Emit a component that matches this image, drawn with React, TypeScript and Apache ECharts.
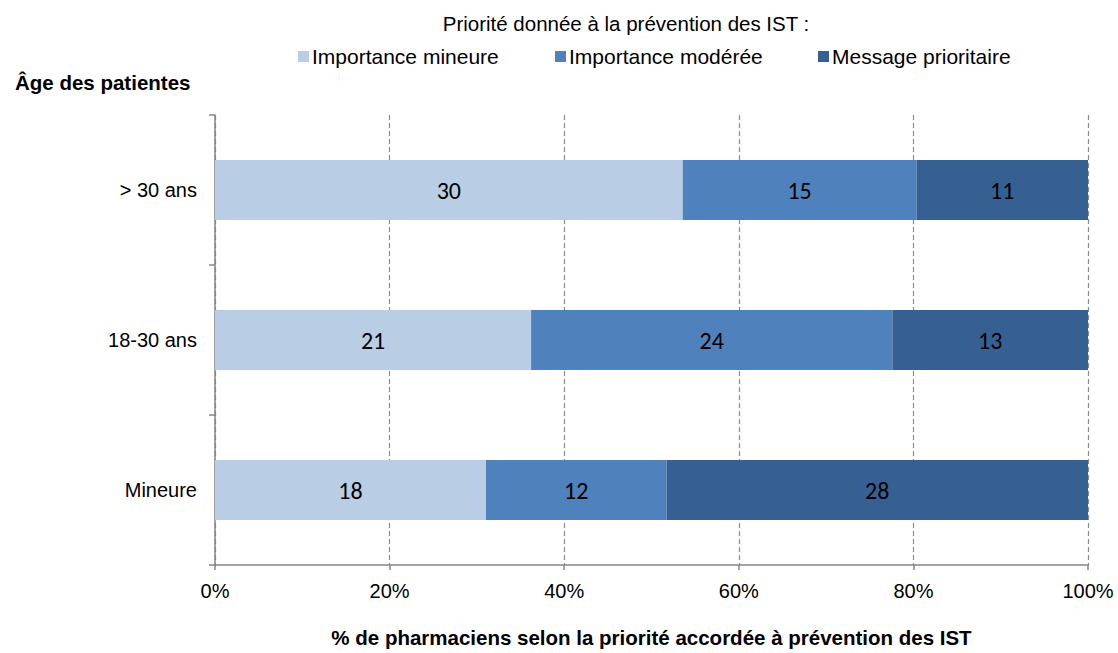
import React, { useEffect, useRef } from "react";
import * as echarts from "echarts";

const categories = ["Mineure", "18-30 ans", "> 30 ans"];
const seriesNames = ["Importance mineure", "Importance modérée", "Message prioritaire"];
const mineure = [18, 21, 30];
const moderee = [12, 24, 15];
const prioritaire = [28, 13, 11];
const xTicks = [0, 20, 40, 60, 80, 100];
const colors = ["#B9CDE5", "#4F81BD", "#376092"];

const AX = "Liberation Sans, Arial, sans-serif";

export default function App() {
  const ref = useRef<HTMLDivElement>(null);
  useEffect(() => {
    if (!ref.current) return;
    const chart = echarts.init(ref.current, null, { renderer: "svg" });
    const raw = [mineure, moderee, prioritaire];
    const totals = categories.map((_, i) => raw.reduce((s, arr) => s + arr[i], 0));
    const legendLefts = [298, 555, 818];
    chart.setOption({
      animation: false,
      textStyle: { fontFamily: AX },
      title: [
        {
          text: "Priorité donnée à la prévention des IST :",
          left: 621,
          top: 8,
          textAlign: "center",
          textStyle: { fontFamily: AX, fontSize: 20.5, fontWeight: "normal", color: "#000" },
        },
        {
          text: "Âge des patientes",
          left: 10,
          top: 67,
          textStyle: { fontFamily: AX, fontSize: 20.5, fontWeight: "bold", color: "#000" },
        },
      ],
      legend: seriesNames.map((n, i) => ({
        data: [n],
        left: legendLefts[i],
        top: 46,
        itemWidth: 11,
        itemHeight: 11,
        itemGap: 0,
        padding: 0,
        icon: "rect",
        selectedMode: false,
        textStyle: { fontFamily: AX, fontSize: 21, color: "#000", padding: [0, 0, 0, -2] },
      })),
      grid: { left: 215, right: 30, top: 115, bottom: 83, containLabel: false },
      xAxis: {
        type: "value",
        min: 0,
        max: 100,
        interval: 20,
        name: "% de pharmaciens selon la priorité accordée à prévention des IST",
        nameLocation: "middle",
        nameGap: 62,
        nameTextStyle: { fontFamily: AX, fontSize: 20.5, fontWeight: "bold", color: "#000" },
        axisLine: { show: true, lineStyle: { color: "#868686", width: 1.5 } },
        axisTick: { show: true, length: 5, lineStyle: { color: "#868686", width: 1.5 } },
        axisLabel: {
          fontFamily: AX,
          fontSize: 20,
          color: "#000",
          margin: 16,
          formatter: (v: number) => (xTicks.includes(v) ? v + "%" : ""),
        },
        splitLine: { show: true, lineStyle: { color: "#8C8C8C", type: [5, 3], width: 1.2 } },
      },
      yAxis: {
        type: "category",
        data: categories,
        axisLine: { show: true, lineStyle: { color: "#868686", width: 1.5 } },
        axisTick: { show: true, length: 6, lineStyle: { color: "#868686", width: 1.5 } },
        axisLabel: { fontFamily: AX, fontSize: 20, color: "#000", margin: 18 },
        splitLine: { show: false },
      },
      series: raw.map((arr, si) => ({
        name: seriesNames[si],
        type: "bar",
        stack: "total",
        barWidth: 60,
        itemStyle: { color: colors[si] },
        label: {
          show: true,
          position: "inside",
          fontFamily: "Carlito, Calibri, 'Noto Sans', sans-serif",
          fontSize: 24,
          color: "#000",
          formatter: (p: any) => String(arr[p.dataIndex]),
        },
        data: arr.map((v, i) => (v / totals[i]) * 100),
      })),
    });
    return () => chart.dispose();
  }, []);
  return (
    <div
      ref={ref}
      style={{ position: "fixed", left: 0, top: 0, width: 1118, height: 653, background: "#fff" }}
    />
  );
}
